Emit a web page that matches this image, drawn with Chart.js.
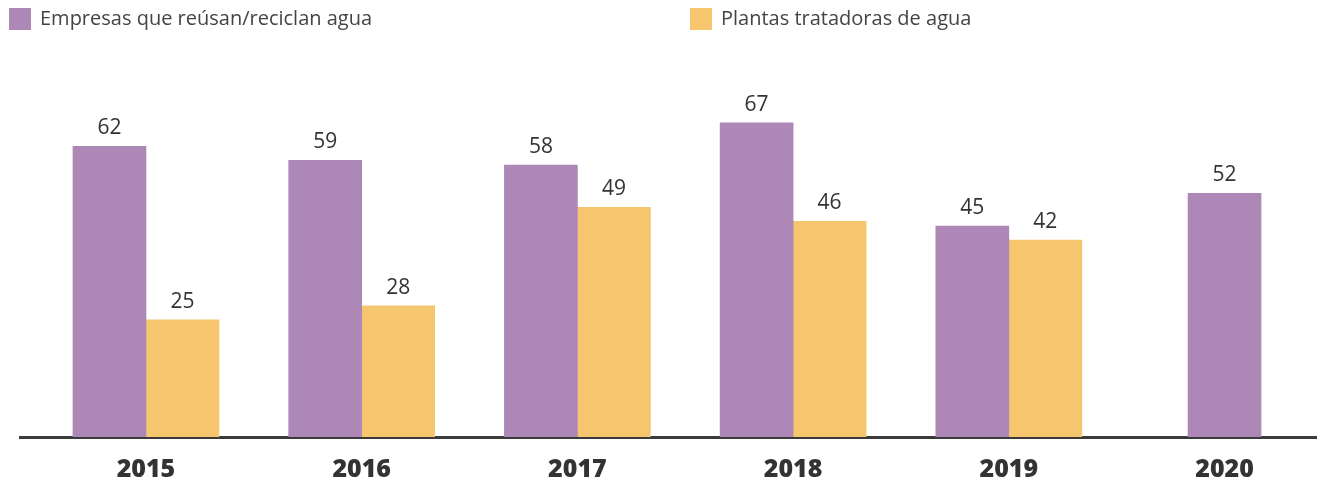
<!DOCTYPE html>
<html>
<head>
<meta charset="utf-8">
<script src="https://cdn.jsdelivr.net/npm/chart.js@4/dist/chart.umd.min.js"></script>
<style>
  html, body { margin: 0; padding: 0; background: #ffffff; }
  #wrap { width: 1322px; height: 482px; position: relative; }
</style>
</head>
<body>
<div id="wrap"><canvas id="c"></canvas></div>
<script>
const years = ['2015', '2016', '2017', '2018', '2019', '2020'];
const empresas = [62, 59, 58, 67, 45, 52];
const plantas = [25, 28, 49, 46, 42, null];
const seriesNames = ['Empresas que reúsan/reciclan agua', 'Plantas tratadoras de agua'];
const seriesColors = ['#AD88B6', '#F6C66F'];

const legendPlugin = {
  id: 'topLegend',
  afterDraw(chart) {
    const ctx = chart.ctx;
    const xs = [9, 690];
    ctx.save();
    chart.data.datasets.forEach((ds, i) => {
      ctx.fillStyle = ds.backgroundColor;
      ctx.fillRect(xs[i], 8, 22, 22);
      ctx.fillStyle = '#444444';
      ctx.font = '20px "Open Sans"';
      ctx.textBaseline = 'middle';
      ctx.textAlign = 'left';
      ctx.fillText(ds.label, xs[i] + 31, 19);
    });
    ctx.restore();
  }
};

const valueLabels = {
  id: 'valueLabels',
  afterDatasetsDraw(chart) {
    const ctx = chart.ctx;
    ctx.save();
    ctx.font = '21px "Open Sans"';
    ctx.fillStyle = '#333333';
    ctx.textAlign = 'center';
    ctx.textBaseline = 'alphabetic';
    chart.data.datasets.forEach((ds, di) => {
      const meta = chart.getDatasetMeta(di);
      meta.data.forEach((el, i) => {
        const v = ds.data[i].y;
        if (v === null || v === undefined) return;
        ctx.fillText(String(v), el.x, el.y - 12);
      });
    });
    ctx.restore();
  }
};

new Chart(document.getElementById('c'), {
  type: 'bar',
  data: {
    datasets: [
      {
        label: seriesNames[0],
        data: years.map((y, i) => ({ x: i, y: empresas[i] })),
        backgroundColor: seriesColors[0],
        barThickness: 73
      },
      {
        label: seriesNames[1],
        data: years.map((y, i) => ({ x: i, y: plantas[i] })),
        backgroundColor: seriesColors[1],
        barThickness: 73
      }
    ]
  },
  options: {
    responsive: true,
    maintainAspectRatio: false,
    animation: false,
    skipNull: true,
    layout: { padding: { top: 62, left: 20, right: 6, bottom: -21 } },
    plugins: {
      legend: { display: false },
      tooltip: { enabled: false }
    },
    scales: {
      x: {
        type: 'linear',
        offset: false,
        min: -0.584,
        max: 5.424,
        grid: { display: false, drawTicks: false },
        border: { display: true, color: '#3a3a3a', width: 3 },
        ticks: {
          stepSize: 1,
          includeBounds: false,
          autoSkip: false,
          maxRotation: 0,
          padding: 18,
          color: '#333333',
          font: { family: 'Open Sans', size: 25, weight: '800' },
          callback: (v) => (Number.isInteger(v) && years[v] !== undefined) ? years[v] : ''
        }
      },
      y: {
        display: false,
        min: 0,
        max: 80
      }
    }
  },
  plugins: [legendPlugin, valueLabels]
});
</script>
</body>
</html>
